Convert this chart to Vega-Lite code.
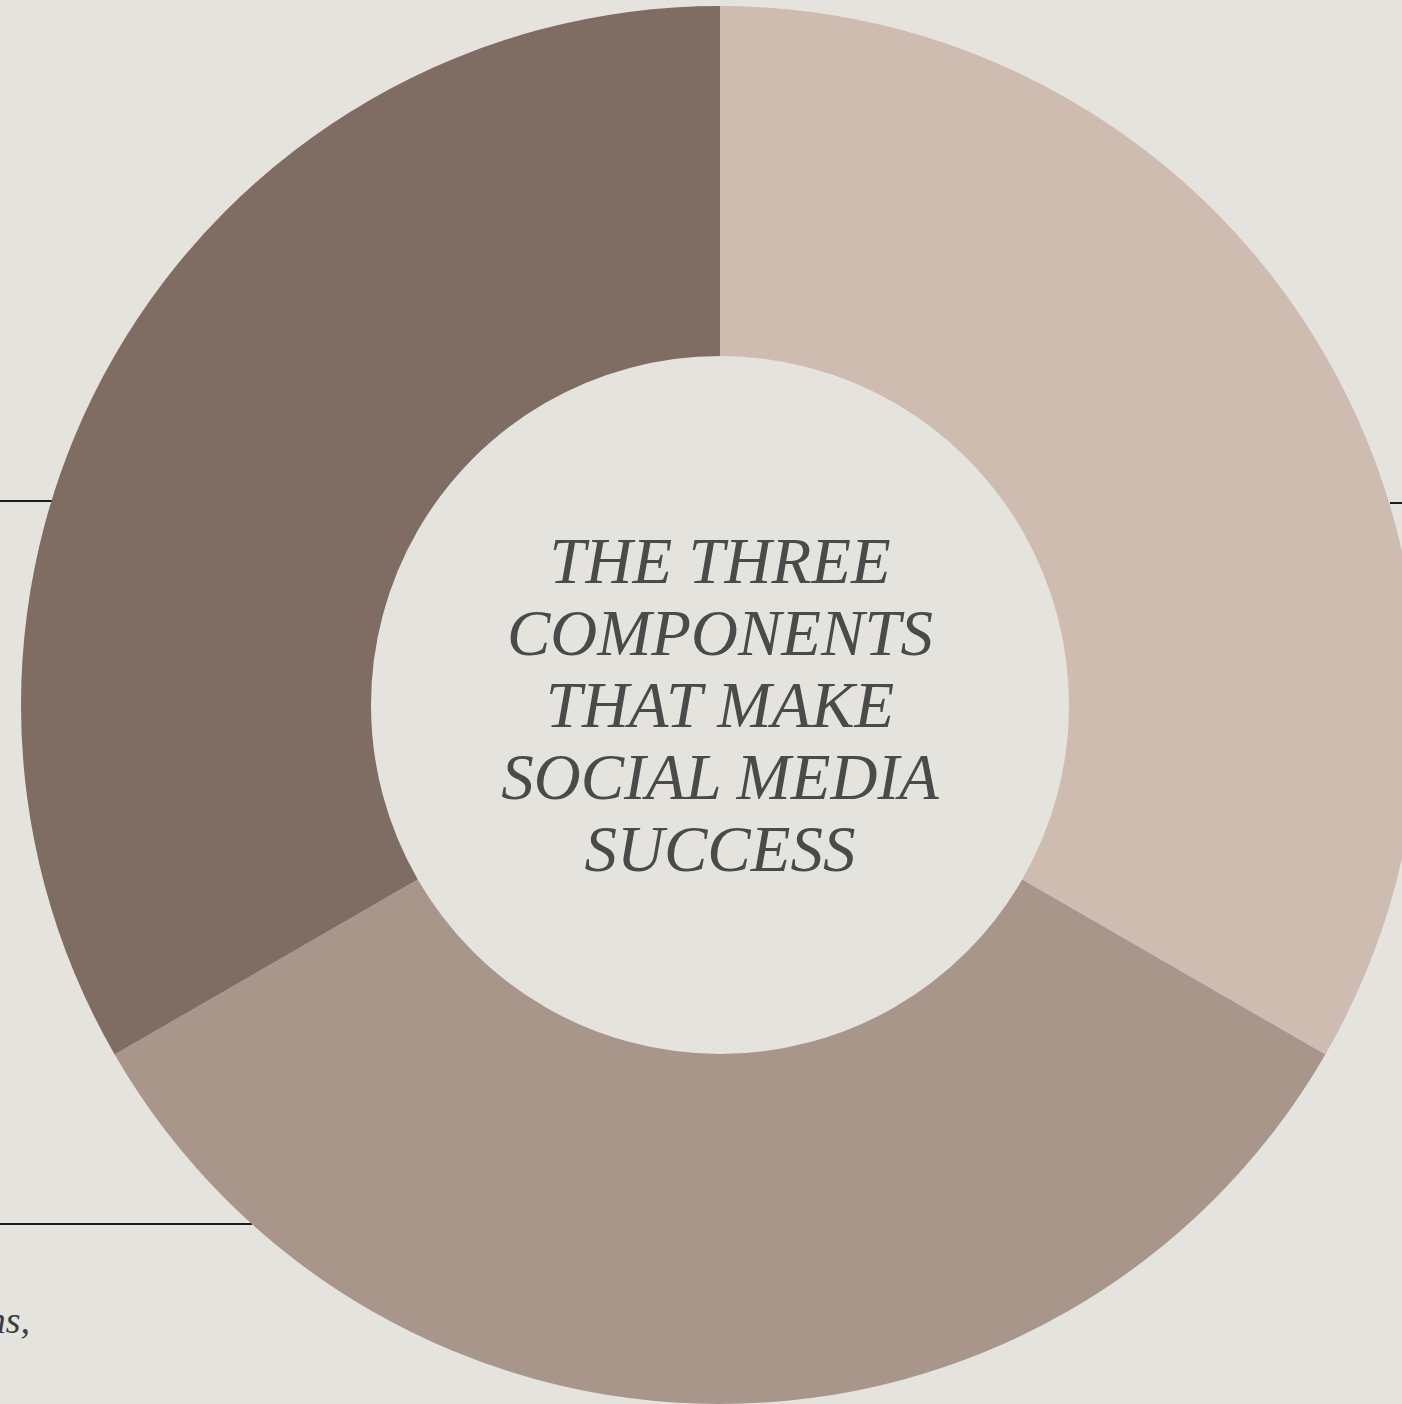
{
  "$schema": "https://vega.github.io/schema/vega-lite/v6.json",
  "width": 1364,
  "height": 1398,
  "autosize": "none",
  "padding": {"left": 38, "top": 6, "right": 0, "bottom": 0},
  "background": "#e5e3de",
  "config": {"view": {"stroke": null}},
  "datasets": {
    "segments": [
      {"component": "A", "share": 1, "rank": 1},
      {"component": "B", "share": 1, "rank": 2},
      {"component": "C", "share": 1, "rank": 3}
    ],
    "lines": [
      {"x": 0, "x2": 53, "y": 501},
      {"x": 0, "x2": 252, "y": 1224},
      {"x": 1390, "x2": 1402, "y": 503}
    ],
    "title": [
      {"label": ["THE THREE", "COMPONENTS", "THAT MAKE", "SOCIAL MEDIA", "SUCCESS"]}
    ],
    "fragment": [
      {"label": "ns,", "x": 30, "y": 1333}
    ]
  },
  "layer": [
    {
      "data": {"name": "lines"},
      "mark": {"type": "rule", "color": "#1c1c1c", "strokeWidth": 2},
      "encoding": {
        "x": {"field": "x", "type": "quantitative", "scale": {"domain": [38, 1402], "nice": false, "zero": false}, "axis": null},
        "x2": {"field": "x2"},
        "y": {"field": "y", "type": "quantitative", "scale": {"domain": [6, 1404], "nice": false, "zero": false, "reverse": true}, "axis": null}
      }
    },
    {
      "data": {"name": "fragment"},
      "mark": {"type": "text", "font": "Liberation Serif", "fontStyle": "italic", "fontSize": 38, "color": "#3c3c3c", "align": "right", "baseline": "alphabetic"},
      "encoding": {
        "x": {"field": "x", "type": "quantitative"},
        "y": {"field": "y", "type": "quantitative"},
        "text": {"field": "label"}
      }
    },
    {
      "data": {"name": "segments"},
      "mark": {"type": "arc", "radius": 699, "radius2": 349, "stroke": null},
      "encoding": {
        "theta": {"field": "share", "type": "quantitative", "stack": true},
        "order": {"field": "rank", "type": "quantitative"},
        "color": {
          "field": "component",
          "type": "nominal",
          "scale": {"domain": ["A", "B", "C"], "range": ["#cfbcb1", "#a8968b", "#7f6d63"]},
          "legend": null
        }
      }
    },
    {
      "data": {"name": "title"},
      "mark": {"type": "text", "font": "Liberation Serif", "fontStyle": "italic", "fontSize": 65, "lineHeight": 72, "color": "#4a4a4a", "align": "center", "baseline": "alphabetic", "dy": -122},
      "encoding": {
        "text": {"field": "label"}
      }
    }
  ]
}
